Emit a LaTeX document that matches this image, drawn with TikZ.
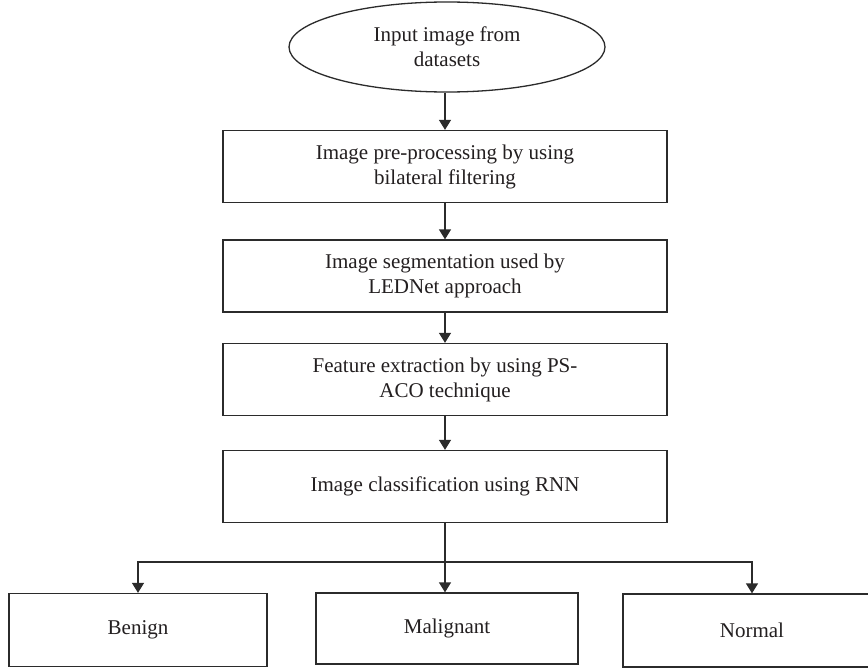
\documentclass[tikz,border=0pt]{standalone}
\usepackage{fontspec}
\setmainfont{Liberation Serif}
\usetikzlibrary{shapes.geometric,arrows.meta}
\definecolor{ln}{HTML}{2B2B2B}
\definecolor{txt}{HTML}{231F20}
\begin{document}
\begin{tikzpicture}[x=1pt,y=-1pt,
  every node/.style={font=\fontsize{21}{25}\selectfont, text=txt, align=center, inner sep=0pt},
  procbox/.style={draw=ln, line width=1.3pt, minimum width=444pt, minimum height=72pt},
  leaf/.style={draw=ln, line width=1.3pt, minimum width=258pt, minimum height=73pt},
  flow/.style={draw=ln, line width=1.3pt, -{Triangle[width=12pt,length=10pt]}}
]
\useasboundingbox (0,0) rectangle (868,669);
\fill[white] (0,0) rectangle (868,669);

\node[ellipse, draw=ln, line width=1.3pt, minimum width=316pt, minimum height=90pt] (in) at (447,47) {Input image from\\datasets};
\node[procbox] (b1) at (445,166.5) {Image pre-processing by using\\bilateral filtering};
\node[procbox] (b2) at (445,276) {Image segmentation used by\\LEDNet approach};
\node[procbox] (b3) at (445,379.5) {Feature extraction by using PS-\\ACO technique};
\node[procbox] (b4) at (445,486.5) {Image classification using RNN};

\node[leaf] (ben) at (138,630) {Benign};
\node[leaf, minimum width=262pt, minimum height=71pt] (mal) at (447,628.5) {Malignant};
\node[leaf] (nor) at (752,630.5) {Normal};

\coordinate (sp) at (445,562);

\draw[flow] (b1.north |- in.south) -- (b1.north);
\draw[flow] (b1) -- (b2);
\draw[flow] (b2) -- (b3);
\draw[flow] (b3) -- (b4);
\draw[flow] (b4.south) -- (b4.south |- mal.north);
\draw[flow] (sp) -| (ben.north);
\draw[flow] (sp) -| (nor.north);
\end{tikzpicture}
\end{document}
